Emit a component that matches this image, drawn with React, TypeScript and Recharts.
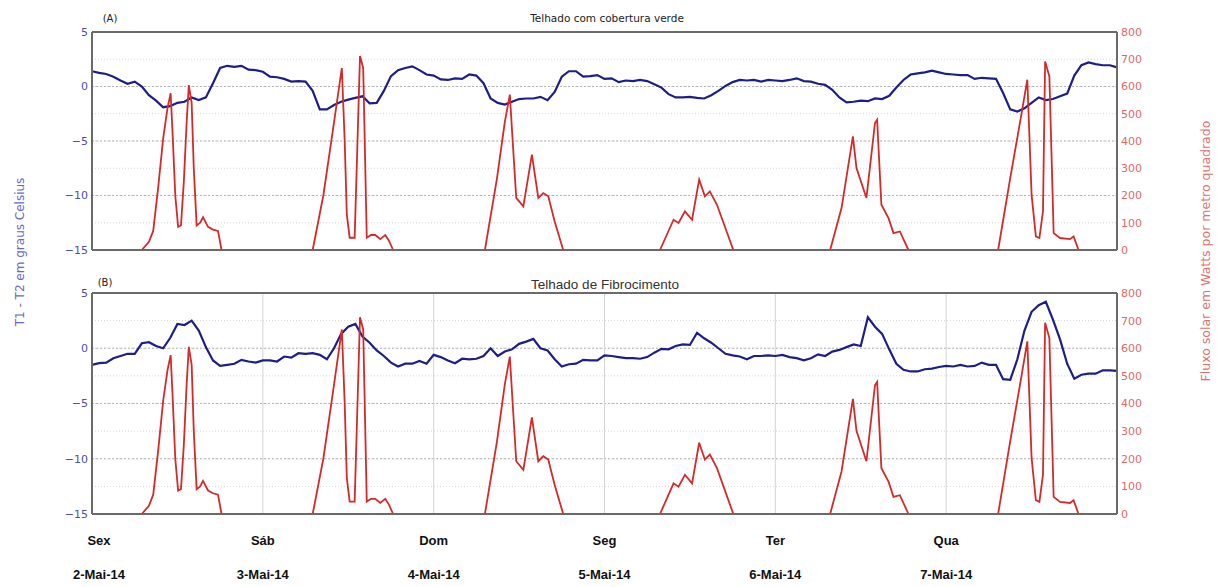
import React from "react";
import { LineChart, Line, XAxis, YAxis, CartesianGrid, ReferenceLine } from "recharts";

const WIDTH = 1217;
const HEIGHT = 587;

const dayTicks = [0, 24, 48, 72, 96, 120];
const dayNames = ["Sex", "Sáb", "Dom", "Seg", "Ter", "Qua"];
const dayDates = ["2-Mai-14", "3-Mai-14", "4-Mai-14", "5-Mai-14", "6-Mai-14", "7-Mai-14"];
const tempTicks = [-15, -10, -5, 0, 5];
const fluxTicks = [0, 100, 200, 300, 400, 500, 600, 700, 800];

// T1 - T2 (°C), one reading per hour from 2-Mai 00h to 8-Mai 00h
const diffVerde = [
  1.4, 1.25, 1.15, 0.9, 0.55, 0.25, 0.45, 0.0, -0.8, -1.3, -1.9, -1.8, -1.5, -1.4, -1.0, -1.25, -1.0, 0.3, 1.7, 1.9, 1.8, 1.9, 1.55, 1.5,
  1.35, 0.9, 0.85, 0.7, 0.45, 0.5, 0.45, -0.4, -2.1, -2.1, -1.7, -1.4, -1.2, -1.05, -0.9, -1.55, -1.5, -0.4, 0.95, 1.5, 1.7, 1.85, 1.5, 1.1,
  1.0, 0.65, 0.6, 0.75, 0.7, 1.1, 1.0, 0.3, -1.1, -1.5, -1.65, -1.4, -1.15, -1.1, -1.1, -0.95, -1.25, -0.5, 0.9, 1.4, 1.4, 0.9, 0.95, 1.05,
  0.7, 0.75, 0.4, 0.55, 0.5, 0.6, 0.5, 0.2, -0.1, -0.7, -1.0, -1.0, -0.95, -1.05, -1.1, -0.8, -0.4, 0.05, 0.4, 0.6, 0.55, 0.6, 0.45, 0.6,
  0.55, 0.5, 0.6, 0.75, 0.5, 0.45, 0.25, 0.15, -0.3, -1.0, -1.45, -1.4, -1.3, -1.35, -1.1, -1.15, -0.85, -0.1, 0.6, 1.1, 1.2, 1.3, 1.45, 1.3,
  1.15, 1.1, 1.05, 1.05, 0.7, 0.8, 0.75, 0.7, -0.6, -2.1, -2.3, -2.0, -1.5, -1.0, -1.25, -1.15, -0.9, -0.65, 1.0, 1.95, 2.2, 2.05, 1.95, 1.95,
  1.75,
];

const diffFibro = [
  -1.5, -1.35, -1.3, -0.9, -0.7, -0.5, -0.5, 0.45, 0.55, 0.2, 0.0, 0.95, 2.2, 2.1, 2.5, 1.6, 0.1, -1.1, -1.6, -1.5, -1.4, -1.05, -1.2, -1.3,
  -1.1, -1.1, -1.2, -0.75, -0.85, -0.45, -0.5, -0.45, -0.6, -1.0, 0.0, 1.3, 1.95, 2.2, 1.05, 0.5, -0.2, -0.7, -1.3, -1.65, -1.4, -1.4, -1.15, -1.4,
  -0.6, -0.8, -1.1, -1.35, -0.95, -1.0, -0.95, -0.7, 0.0, -0.7, -0.3, -0.1, 0.4, 0.6, 0.85, 0.0, -0.2, -1.0, -1.65, -1.45, -1.4, -1.05, -1.1, -1.1,
  -0.65, -0.7, -0.8, -0.9, -0.9, -0.95, -0.8, -0.4, -0.05, -0.1, 0.2, 0.35, 0.3, 1.4, 0.9, 0.5, 0.0, -0.5, -0.65, -0.75, -1.0, -0.7, -0.7, -0.65,
  -0.7, -0.6, -0.8, -0.9, -1.1, -0.9, -0.55, -0.7, -0.3, -0.15, 0.1, 0.35, 0.2, 2.8, 1.95, 1.3, -0.1, -1.4, -1.95, -2.1, -2.1, -1.9, -1.85, -1.7,
  -1.6, -1.65, -1.5, -1.65, -1.6, -1.3, -1.5, -1.5, -2.8, -2.85, -1.0, 1.6, 3.3, 3.9, 4.2, 2.6, 0.8, -1.4, -2.75, -2.4, -2.3, -2.3, -2.0, -2.0,
  -2.05,
];

// solar flux (W/m²) per day as [hour since 2-Mai 00h, value]
const solarSex = [
  [7.0, 0], [8.0, 30], [8.6, 70], [9.3, 230], [10.0, 410], [10.6, 520], [11.05, 575], [11.3, 440], [11.7, 200], [12.1, 85],
  [12.5, 90], [12.9, 250], [13.3, 470], [13.6, 605], [14.0, 540], [14.3, 300], [14.7, 90], [15.2, 100], [15.6, 120],
  [16.3, 85], [17.0, 75], [17.7, 70], [18.2, 0],
];
const solarSab = [
  [31.0, 0], [32.5, 200], [33.9, 450], [35.1, 668], [35.5, 400], [35.8, 130], [36.2, 45], [36.9, 45], [37.3, 400],
  [37.65, 712], [38.1, 668], [38.6, 45], [39.2, 55], [39.8, 55], [40.5, 40], [41.2, 55], [41.7, 35], [42.3, 0],
];
const solarDom = [
  [55.2, 0], [56.9, 264], [58.0, 470], [58.7, 570], [59.1, 400], [59.6, 191], [60.6, 160], [61.8, 350], [62.7, 191],
  [63.4, 209], [64.1, 197], [65.0, 105], [66.2, 0],
];
const solarSeg = [
  [79.8, 0], [81.7, 111], [82.4, 99], [83.3, 142], [84.3, 111], [85.3, 258], [86.1, 197], [86.8, 215], [87.8, 166], [90.1, 0],
];
const solarTer = [
  [103.7, 0], [105.3, 154], [106.9, 417], [107.4, 301], [108.8, 191], [110.0, 466], [110.3, 478], [110.9, 166],
  [111.9, 117], [112.6, 62], [113.5, 68], [114.7, 0],
];
const solarQua = [
  [127.3, 0], [129.0, 264], [130.4, 472], [131.4, 625], [132.0, 203], [132.6, 50], [133.1, 44], [133.6, 142], [133.9, 692],
  [134.5, 637], [135.1, 62], [136.0, 44], [137.4, 40], [137.9, 50], [138.6, 0],
];
const solarDays = [solarSex, solarSab, solarDom, solarSeg, solarTer, solarQua];

// nights are left empty so the trace breaks between days
const solarRows: { t: number; flux: number | null }[] = [];
solarDays.forEach((day, i) => {
  if (i > 0) {
    const prev = solarDays[i - 1];
    solarRows.push({ t: (prev[prev.length - 1][0] + day[0][0]) / 2, flux: null });
  }
  day.forEach(([t, flux]) => solarRows.push({ t, flux }));
});

const BLUE = "#1e1e8a";
const RED = "#d42a2a";
const FRAME = "#6a6a6a";
const TICK_FONT = { fontSize: 11, fontFamily: "DejaVu Sans" };

function DayTick(props: any) {
  const { x, y, payload } = props;
  const i = dayTicks.indexOf(payload.value);
  const shift = i === 0 ? 7 : 0;
  return (
    <g fontFamily="Liberation Sans" fontWeight="bold" fontSize={13} fill="#111">
      <text x={x + shift} y={y + 31} textAnchor="middle">
        {dayNames[i]}
      </text>
      <text x={x + shift} y={y + 65} textAnchor="middle">
        {dayDates[i]}
      </text>
    </g>
  );
}

type PanelProps = {
  diff: number[];
  height: number;
  bottom: number;
  xAxisHeight: number;
  showDays?: boolean;
};

function Panel({ diff, height, bottom, xAxisHeight, showDays }: PanelProps) {
  const rows = diff.map((v, i) => ({ t: i, diff: v }));
  return (
    <LineChart width={WIDTH} height={height} margin={{ top: 32, right: 0, bottom, left: 0 }}>
      <CartesianGrid yAxisId="flux" vertical={false} stroke="#d6d6d6" strokeDasharray="1 2" />
      <CartesianGrid yAxisId="temp" vertical={false} stroke="#b4b4b4" strokeDasharray="2 2" />
      <CartesianGrid yAxisId="temp" horizontal={false} stroke="#d4d4d4" />
      <XAxis
        dataKey="t"
        type="number"
        domain={[0, 144]}
        ticks={dayTicks}
        height={xAxisHeight}
        axisLine={{ stroke: FRAME, strokeWidth: 2 }}
        tickLine={false}
        tickSize={0}
        tickMargin={0}
        tick={showDays ? <DayTick /> : false}
        interval={0}
      />
      <YAxis
        yAxisId="temp"
        orientation="left"
        width={92}
        domain={[-15, 5]}
        ticks={tempTicks}
        tickFormatter={(v: number) => String(v).replace("-", "\u2212")}
        tick={{ ...TICK_FONT, fill: "#5050a6" }}
        axisLine={{ stroke: FRAME, strokeWidth: 2 }}
        tickLine={false}
        tickSize={0}
        tickMargin={4}
      />
      <YAxis
        yAxisId="flux"
        orientation="right"
        width={100}
        domain={[0, 800]}
        ticks={fluxTicks}
        tick={{ ...TICK_FONT, fill: "#e06a6a" }}
        axisLine={{ stroke: FRAME, strokeWidth: 2 }}
        tickLine={false}
        tickSize={0}
        tickMargin={4}
      />
      <ReferenceLine yAxisId="temp" y={5} stroke={FRAME} strokeWidth={2} />
      <Line
        yAxisId="temp"
        data={rows}
        dataKey="diff"
        type="linear"
        stroke={BLUE}
        strokeWidth={2.2}
        dot={false}
        isAnimationActive={false}
      />
      <Line
        yAxisId="flux"
        data={solarRows}
        dataKey="flux"
        type="linear"
        stroke={RED}
        strokeWidth={1.8}
        dot={false}
        connectNulls={false}
        isAnimationActive={false}
      />
    </LineChart>
  );
}

export default function App() {
  return (
    <div style={{ position: "absolute", left: 0, top: 0, width: WIDTH, height: HEIGHT, background: "#fff" }}>
      <div style={{ position: "absolute", left: 0, top: 0 }}>
        <Panel diff={diffVerde} height={256} bottom={5} xAxisHeight={1} />
      </div>
      <div style={{ position: "absolute", left: 0, top: 261 }}>
        <Panel diff={diffFibro} height={326} bottom={0} xAxisHeight={73} showDays />
      </div>
      <svg
        width={WIDTH}
        height={HEIGHT}
        style={{ position: "absolute", left: 0, top: 0, pointerEvents: "none" }}
        fontFamily="DejaVu Sans"
      >
        <text x={110} y={22} fontSize={10} textAnchor="middle" fill="#222">
          (A)
        </text>
        <text x={607} y={22} fontSize={10.5} textAnchor="middle" fill="#222">
          Telhado com cobertura verde
        </text>
        <text x={105} y={286} fontSize={10} textAnchor="middle" fill="#222">
          (B)
        </text>
        <text x={605} y={289} fontSize={13.5} fontFamily="Liberation Sans" textAnchor="middle" fill="#333">
          Telhado de Fibrocimento
        </text>
        <text
          x={20}
          y={252}
          fontSize={12}
          fill="#6a6ac4"
          textAnchor="middle"
          dominantBaseline="central"
          transform="rotate(-90 20 252)"
        >
          T1 - T2 em graus Celsius
        </text>
        <text
          x={1205}
          y={251}
          fontSize={12.5}
          fill="#e07070"
          textAnchor="middle"
          dominantBaseline="central"
          transform="rotate(-90 1205 251)"
        >
          Fluxo solar em Watts por metro quadrado
        </text>
      </svg>
    </div>
  );
}
